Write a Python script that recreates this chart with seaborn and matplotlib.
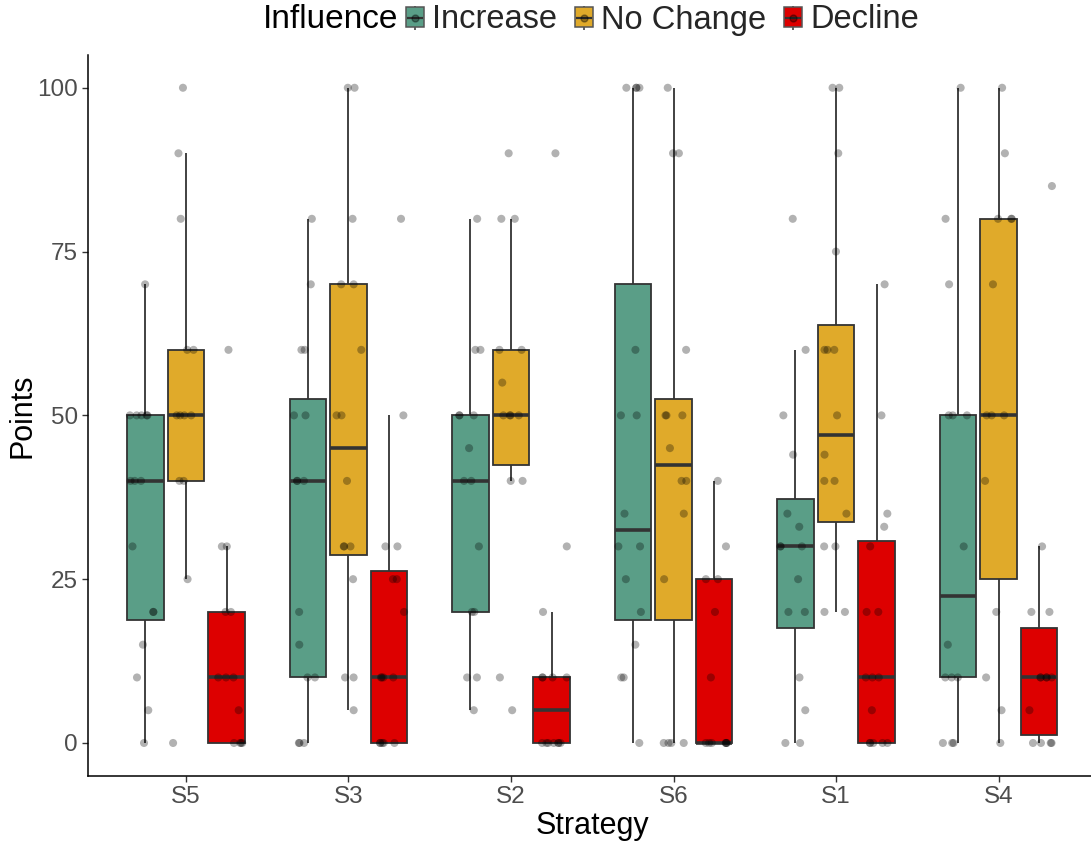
import numpy as np
import pandas as pd
import matplotlib
matplotlib.use("Agg")
import matplotlib.pyplot as plt
import seaborn as sns
from matplotlib.patches import Patch
from matplotlib.lines import Line2D
from matplotlib.legend_handler import HandlerTuple

strategies = ["S5", "S3", "S2", "S6", "S1", "S4"]
influences = ["Increase", "No Change", "Decline"]
colors = ["#5A9E87", "#E0AA2A", "#DD0000"]

s5_increase = [0, 5, 10, 15, 20, 20, 30, 40, 40, 40, 50, 50, 50, 50, 50, 70]
s5_nochange = [0, 25, 40, 40, 50, 50, 50, 50, 60, 60, 80, 90, 100]
s5_decline = [0, 0, 0, 0, 5, 10, 10, 10, 20, 20, 30, 30, 60]
s3_increase = [0, 0, 0, 10, 10, 15, 20, 40, 40, 40, 50, 50, 60, 60, 70, 80]
s3_nochange = [5, 10, 10, 25, 30, 30, 30, 40, 50, 50, 60, 70, 70, 80, 100, 100]
s3_decline = [0, 0, 0, 0, 0, 10, 10, 10, 10, 20, 25, 25, 30, 30, 50, 80]
s2_increase = [5, 10, 10, 20, 20, 30, 40, 40, 45, 50, 50, 50, 60, 60, 80]
s2_nochange = [5, 10, 40, 40, 50, 50, 50, 50, 55, 60, 60, 80, 80, 90]
s2_decline = [0, 0, 0, 0, 0, 0, 0, 10, 10, 10, 10, 20, 30, 90]
s6_increase = [0, 10, 10, 15, 20, 25, 30, 30, 35, 50, 50, 60, 100, 100, 100, 100]
s6_nochange = [0, 0, 0, 0, 25, 35, 40, 40, 45, 50, 50, 50, 60, 90, 90, 100]
s6_decline = [0, 0, 0, 0, 0, 0, 0, 10, 20, 25, 25, 30, 40]
s1_increase = [0, 0, 5, 10, 20, 20, 25, 30, 30, 30, 33, 35, 44, 50, 60, 80]
s1_nochange = [20, 20, 30, 30, 35, 40, 40, 44, 50, 60, 60, 60, 75, 90, 100, 100]
s1_decline = [0, 0, 0, 0, 0, 5, 10, 10, 10, 20, 20, 30, 33, 35, 50, 70]
s4_increase = [0, 0, 0, 10, 10, 10, 15, 30, 50, 50, 50, 70, 80, 100]
s4_nochange = [0, 5, 10, 20, 40, 50, 50, 50, 70, 80, 80, 80, 90, 100]
s4_decline = [0, 0, 0, 0, 5, 10, 10, 10, 10, 10, 20, 20, 30, 85]

groups = {
    "S5": [s5_increase, s5_nochange, s5_decline],
    "S3": [s3_increase, s3_nochange, s3_decline],
    "S2": [s2_increase, s2_nochange, s2_decline],
    "S6": [s6_increase, s6_nochange, s6_decline],
    "S1": [s1_increase, s1_nochange, s1_decline],
    "S4": [s4_increase, s4_nochange, s4_decline],
}

rows = []
for s in strategies:
    for inf, vals in zip(influences, groups[s]):
        for v in vals:
            rows.append({"Strategy": s, "Influence": inf, "Points": v})
df = pd.DataFrame(rows)

sns.set_theme(style="ticks")
plt.rcParams["font.family"] = ["Liberation Sans", "DejaVu Sans"]

fig = plt.figure(figsize=(10.91, 8.41), dpi=100)
ax = fig.add_axes([0.0811, 0.0776, 0.9235, 0.857])

palette = dict(zip(influences, colors))
sns.boxplot(data=df, x="Strategy", y="Points", hue="Influence",
            order=strategies, hue_order=influences, palette=palette,
            width=0.75, gap=0.1, showfliers=False, whis=1.5,
            linewidth=1.3, linecolor="#333333", showcaps=False,
            medianprops=dict(linewidth=2.6), saturation=1,
            legend=False, ax=ax)
np.random.seed(3)
sns.stripplot(data=df, x="Strategy", y="Points", hue="Influence",
              order=strategies, hue_order=influences,
              palette={k: "black" for k in influences},
              dodge=True, jitter=0.25, alpha=0.3, size=5.8,
              linewidth=0, legend=False, ax=ax)

ax.set_xlim(-0.6, 5.6)
ax.set_ylim(-5, 105)
ax.set_yticks([0, 25, 50, 75, 100])
ax.tick_params(axis="both", labelsize=17.5, labelcolor="#4D4D4D",
               color="#333333", length=4, width=1)
ax.set_xlabel("Strategy", fontsize=22, color="black", labelpad=2)
ax.set_ylabel("Points", fontsize=22, color="black", labelpad=0)
sns.despine(ax=ax)
for sp in ["left", "bottom"]:
    ax.spines[sp].set_color("black")
    ax.spines[sp].set_linewidth(1.1)
ax.grid(False)

handles = [(Line2D([], [], marker="|", color="#333333", linestyle="None",
                   markersize=17, markeredgewidth=1.1),
            Patch(facecolor=c, edgecolor="#555555", linewidth=1.1),
            Line2D([], [], marker="_", color="#333333", linestyle="None",
                   markersize=11, markeredgewidth=1.6),
            Line2D([], [], marker="o", color="black", alpha=0.35,
                   linestyle="None", markersize=5))
           for c in colors]
fig.text(398 / 1091, 1 - 20 / 841, "Influence", ha="right", va="center",
         fontsize=24, color="black")
fig.legend(handles, influences, loc="center left",
           bbox_to_anchor=(406 / 1091, 1 - 20 / 841), ncol=3, frameon=False,
           fontsize=23.5, handlelength=0.55, handleheight=0.6,
           handletextpad=0.25, columnspacing=0.55, borderaxespad=0,
           borderpad=0, handler_map={tuple: HandlerTuple(ndivide=1)})

fig.savefig("out.png", dpi=100, facecolor="white")
